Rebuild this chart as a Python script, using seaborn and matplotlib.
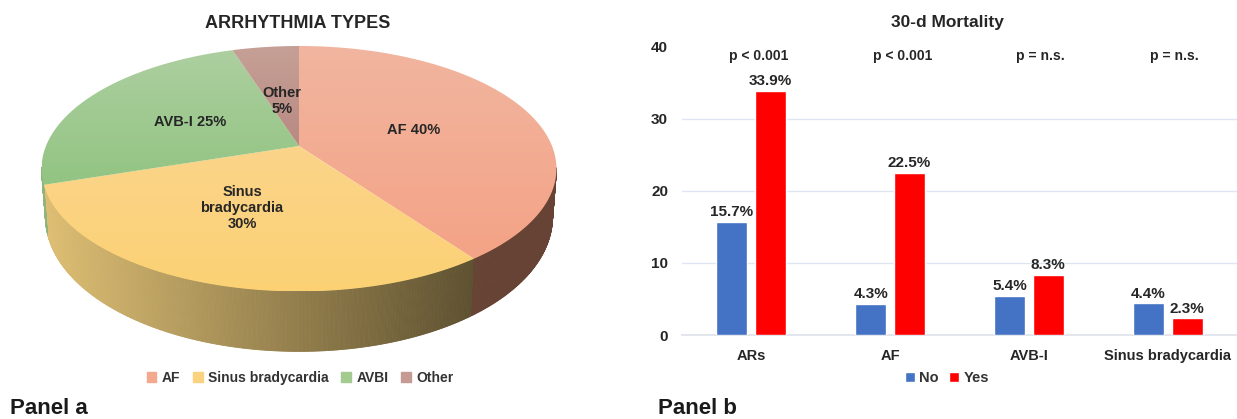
import numpy as np
import pandas as pd
import seaborn as sns
import matplotlib
matplotlib.use("Agg")
import matplotlib.pyplot as plt
from matplotlib.collections import PolyCollection
from matplotlib.colors import LinearSegmentedColormap, to_rgb
from matplotlib.patches import Patch, Polygon

# Arrhythmia shares, clockwise from twelve o'clock
slice_names = ["AF", "Sinus bradycardia", "AVBI", "Other"]
slice_shares = [40, 30, 25, 5]
slice_legend_colors = ["#F4A98F", "#FBD27F", "#A3CB90", "#C49A92"]
slice_top_shades = [("#F1B59F", "#F4A386"), ("#FBD48A", "#FCD174"),
                    ("#ADCFA0", "#92C482"), ("#C6A096", "#B88A82")]

# 30-day mortality by group
groups = ["ARs", "AF", "AVB-I", "Sinus bradycardia"]
mortality_no = [15.7, 4.3, 5.4, 4.4]
mortality_yes = [33.9, 22.5, 8.3, 2.3]
p_labels = ["p < 0.001", "p < 0.001", "p = n.s.", "p = n.s."]

sns.set_theme(style="white")
plt.rcParams["font.family"] = ["Liberation Sans", "DejaVu Sans"]
plt.rcParams["font.weight"] = "bold"
INK = "#262626"

W, H = 1237, 419
fig = plt.figure(figsize=(W / 100, H / 100), dpi=100, facecolor="white")

# Left panel: tilted pie in a perspective projection, drawn in pixel-sized units
pie_ax = fig.add_axes([0, 0, 620 / W, 1])
CX, CY, TILT, SCALE_Y, SCALE_X = 299.0, 146.0, 0.185, 118.5, 253.0


def project(theta):
    u, v = np.sin(theta), np.cos(theta)
    w = 1 + TILT * v
    return CX + SCALE_X * u / w, CY - SCALE_Y * v / w


def project_base(theta):
    x, y = project(theta)
    return CX + (x - CX) * 0.985, y + 45 - 15 * np.cos(theta)


edges = np.r_[0, np.cumsum(slice_shares)] / sum(slice_shares) * 2 * np.pi

# Side wall: thin quads shaded from left to right
wall_light, wall_dark = np.array(to_rgb("#DDBE73")), np.array(to_rgb("#5E5130"))
thetas = np.linspace(1.75, 1.445 * np.pi, 500)
quads, colours = [], []
for a, b in zip(thetas[:-1], thetas[1:]):
    xa, ya = project(a)
    xb, yb = project(b)
    xc, yc = project_base(b)
    xd, yd = project_base(a)
    quads.append([(xa, ya), (xb, yb), (xc, yc), (xd, yd)])
    mid = (a + b) / 2
    if mid < edges[1]:
        colours.append(to_rgb("#664334"))
    elif mid < edges[2]:
        t = np.clip((project(mid)[0] - 45) / (473 - 45), 0, 1)
        colours.append(tuple(wall_light + (wall_dark - wall_light) * t))
    else:
        colours.append(to_rgb("#8FB57C"))
pie_ax.add_collection(PolyCollection(quads, facecolors=colours, edgecolors=colours, linewidths=0.6))

# Top face: one wedge per share with a soft vertical shade
for i, (start, end) in enumerate(zip(edges[:-1], edges[1:])):
    arc = np.linspace(start, end, 200)
    xs, ys = project(arc)
    verts = np.column_stack([np.r_[CX, xs], np.r_[CY, ys]])
    wedge = Polygon(verts, closed=True, facecolor="none", edgecolor="none",
                    transform=pie_ax.transData)
    pie_ax.add_patch(wedge)
    cmap = LinearSegmentedColormap.from_list(f"shade{i}", slice_top_shades[i])
    shade = pie_ax.imshow(np.linspace(0, 1, 256)[:, None], cmap=cmap, aspect="auto",
                          extent=(min(xs.min(), CX), max(xs.max(), CX),
                                  max(ys.max(), CY), min(ys.min(), CY)),
                          interpolation="bilinear", zorder=3)
    shade.set_clip_path(wedge)

pie_ax.set_xlim(0, 620)
pie_ax.set_ylim(H, 0)
pie_ax.axis("off")

pie_text = dict(ha="center", va="center", fontsize=10.5, color=INK, zorder=5,
                linespacing=1.2)
pie_ax.text(414, 130, "AF 40%", **pie_text)
pie_ax.text(190, 122, "AVB-I 25%", **pie_text)
pie_ax.text(282, 101, "Other\n5%", **pie_text)
pie_ax.text(242, 208, "Sinus\nbradycardia\n30%", **pie_text)

pie_ax.legend(handles=[Patch(color=c, label=n) for c, n in zip(slice_legend_colors, slice_names)],
              loc="center", bbox_to_anchor=(300, 378), bbox_transform=pie_ax.transData,
              ncol=4, frameon=False, fontsize=10, handlelength=0.7, handleheight=0.7,
              handletextpad=0.4, columnspacing=0.9, labelcolor="#333333")

# Right panel: grouped bars
frame = pd.DataFrame({
    "group": groups * 2,
    "Outcome": ["No"] * len(groups) + ["Yes"] * len(groups),
    "mortality": mortality_no + mortality_yes,
})
bar_ax = fig.add_axes([682 / W, (H - 335) / H, (W - 682) / W, 288 / H])
sns.barplot(data=frame, x="group", y="mortality", hue="Outcome", order=groups,
            hue_order=["No", "Yes"], palette=["#4472C4", "#FF0000"], width=0.56, gap=0.2,
            saturation=1, errorbar=None, ax=bar_ax, zorder=3)
bar_ax.set_xlim(-0.5, 3.5)
bar_ax.set_ylim(0, 40)
bar_ax.set_xlabel("")
bar_ax.set_ylabel("")
bar_ax.set_yticks([0, 10, 20, 30, 40])
bar_ax.yaxis.grid(True, color="#DFE6F3", linewidth=1)
bar_ax.yaxis.get_gridlines()[-1].set_visible(False)
bar_ax.xaxis.grid(False)
bar_ax.tick_params(axis="y", length=0, pad=10, labelsize=11, labelcolor=INK)
bar_ax.tick_params(axis="x", length=0, pad=10, labelsize=10.5, labelcolor=INK)
for spine in ["top", "left", "right"]:
    bar_ax.spines[spine].set_visible(False)
bar_ax.spines["bottom"].set_color("#DFE3EA")

for container in bar_ax.containers:
    bar_ax.bar_label(container, fmt="%.1f%%", padding=2, fontsize=11, color=INK)

for i, (label, shift) in enumerate(zip(p_labels, [0.05, 0.09, 0.08, 0.05])):
    bar_ax.text(i + shift, 38.8, label, ha="center", va="center", fontsize=10, color=INK)

handles, labels = bar_ax.get_legend_handles_labels()
bar_ax.legend(handles, labels, loc="center", bbox_to_anchor=(947 / W, (H - 378) / H),
              bbox_transform=fig.transFigure, ncol=2, frameon=False, fontsize=10.5,
              handlelength=0.7, handleheight=0.7, handletextpad=0.3, columnspacing=0.7,
              labelcolor="#333333")

# Titles and panel tags
fig.text(298 / W, 1 - 23 / H, "ARRHYTHMIA TYPES", ha="center", va="center", fontsize=13, color=INK)
fig.text(947 / W, 1 - 23 / H, "30-d Mortality", ha="center", va="center", fontsize=12.5, color=INK)
fig.text(10 / W, 1 - 408 / H, "Panel a", ha="left", va="center", fontsize=16, color="#1a1a1a")
fig.text(658 / W, 1 - 408 / H, "Panel b", ha="left", va="center", fontsize=16, color="#1a1a1a")

fig.savefig("out.png", dpi=100, facecolor="white")
